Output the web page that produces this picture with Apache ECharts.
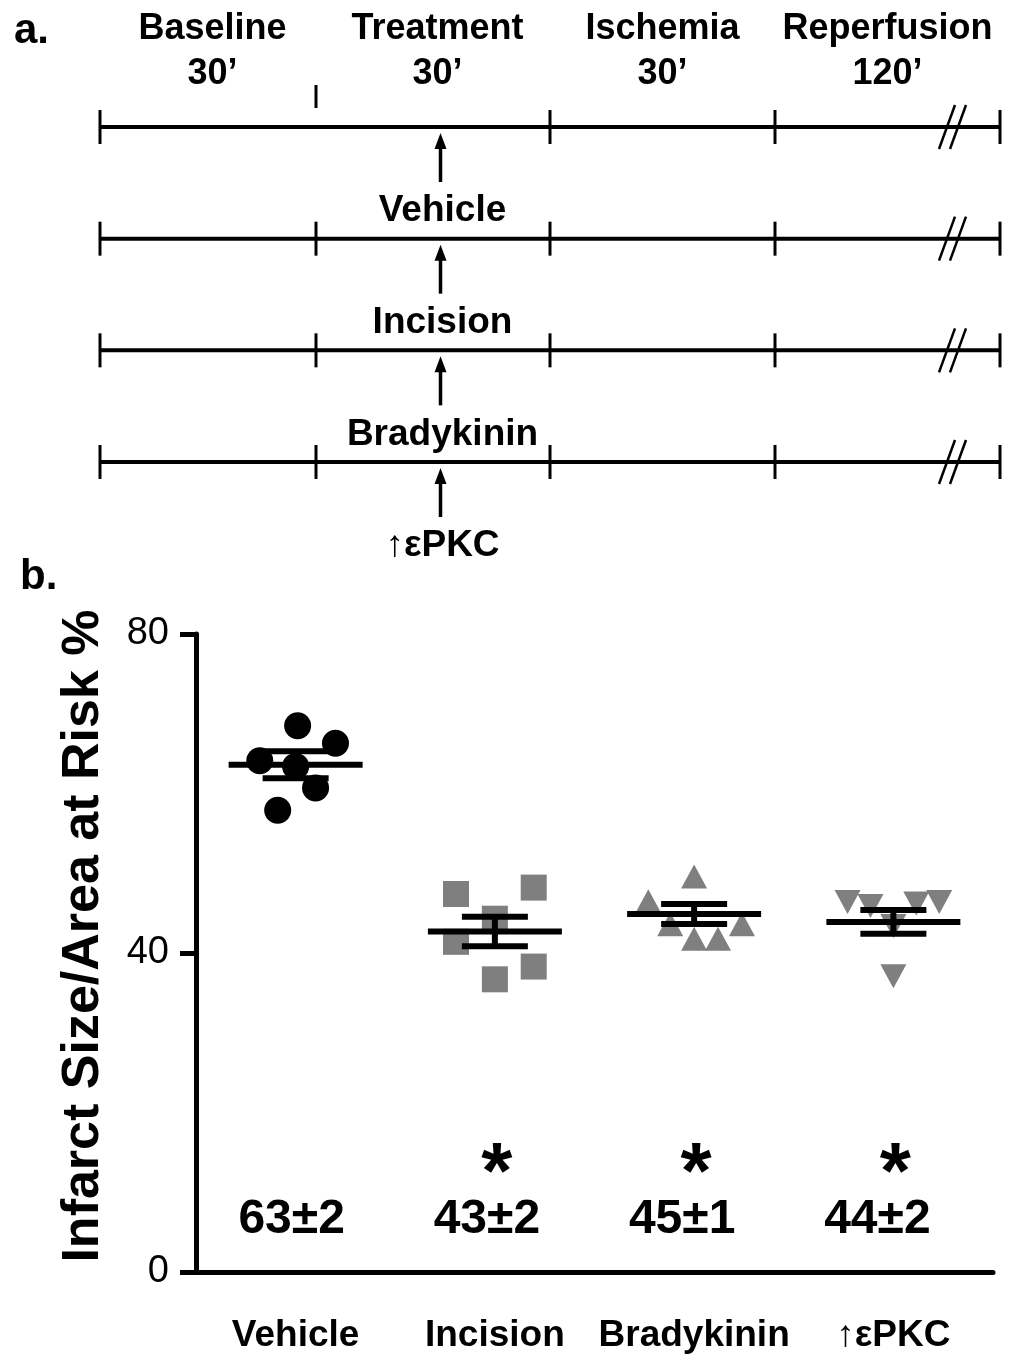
<!DOCTYPE html>
<html>
<head>
<meta charset="utf-8">
<script src="https://cdn.jsdelivr.net/npm/echarts@6/dist/echarts.min.js"></script>
<style>
  html, body { margin: 0; padding: 0; background: #fff; }
  #chart { width: 1015px; height: 1357px; }
</style>
</head>
<body>
<div id="chart"></div>
<script>
// ======================
// DATA
// ======================

const phases = ['Baseline', 'Treatment', 'Ischemia', 'Reperfusion'];
const durations = ['30\u2019', '30\u2019', '30\u2019', '120\u2019'];
const groups = ['Vehicle', 'Incision', 'Bradykinin', '\u2191\u03b5PKC'];

// infarct size / area at risk (%) per animal
const vehicleVals = [68.5, 66.3, 64.1, 63.4, 60.7, 57.9];
const incisionVals = [47.4, 48.2, 44.3, 41.4, 38.3, 36.7];
const bradykininVals = [49.6, 46.5, 43.6, 43.6, 41.8, 41.8];
const epkcVals = [46.4, 45.9, 46.2, 46.4, 43.4, 37.1];

// horizontal spread of the dots (category units)
const vehicleJitter = [0.01, 0.2, -0.18, 0, 0.1, -0.09];
const incisionJitter = [-0.195, 0.195, 0, -0.195, 0.195, 0];
const bradykininJitter = [0, -0.23, -0.12, 0.24, 0, 0.12];
const epkcJitter = [-0.23, -0.115, 0.115, 0.23, 0, 0];

const means = [63.6, 42.7, 44.9, 43.9];
const sems = [1.7, 1.85, 1.25, 1.5];
const summaryLabels = ['63\u00b12', '43\u00b12', '45\u00b11', '44\u00b12'];
const significance = ['', '*', '*', '*'];

const yTicks = [0, 40, 80];

// ======================
// HELPERS
// ======================

const FONT = "'Liberation Sans', Arial, sans-serif";
const GRAY = '#7f7f7f';

function seg(x1, y1, x2, y2, w) {
    return {
        type: 'line',
        shape: { x1, y1, x2, y2 },
        style: { stroke: '#000', lineWidth: w },
    };
}

function txt(text, x, y, size, weight) {
    return {
        type: 'text',
        style: {
            text, x, y,
            align: 'center',
            verticalAlign: 'middle',
            font: `${weight || 'bold'} ${size}px ${FONT}`,
            fill: '#000',
        },
    };
}

function dots(vals, jitter, idx) {
    return vals.map((v, k) => [idx + jitter[k], v]);
}

// ======================
// RENDERERS
// ======================

const treatIdx = phases.indexOf('Treatment');

function renderTimeline(params, api) {
    const row = api.value(1);
    const band = api.size([1, 0])[0];
    const c0 = api.coord([0, row]);
    const y = c0[1];
    const xStart = c0[0] - band / 2;
    const xEnd = xStart + band * phases.length;
    const children = [seg(xStart, y, xEnd, y, 4)];

    for (let j = 0; j <= phases.length; j++) {
        const x = xStart + j * band - (j === 1 ? 9 : 0);
        if (row === 0 && j === 1) children.push(seg(x, y - 42, x, y - 19, 3));
        else children.push(seg(x, y - 17, x, y + 17, 3));
    }

    // axis break
    const bx = xEnd - 0.2 * band;
    [-8, 3].forEach(dx => children.push(seg(bx + dx - 8, y + 22, bx + dx + 8, y - 22, 2.5)));

    // treatment arrow + label
    const ax = api.coord([treatIdx, row])[0] + 3;
    children.push(seg(ax, y + 20, ax, y + 55, 3.5));
    children.push({
        type: 'polygon',
        shape: { points: [[ax, y + 6], [ax - 6, y + 22], [ax + 6, y + 22]] },
        style: { fill: '#000' },
    });
    children.push(txt(groups[row], ax + 2, y + 84, 37));
    return { type: 'group', children };
}

function renderMeanSem(params, api) {
    const i = api.value(0);
    const m = api.coord([i, api.value(1)]);
    const hi = api.coord([i, api.value(1) + api.value(2)]);
    const lo = api.coord([i, api.value(1) - api.value(2)]);
    return {
        type: 'group',
        children: [
            seg(m[0] - 67, m[1], m[0] + 67, m[1], 6),
            seg(m[0], hi[1], m[0], lo[1], 6),
            seg(m[0] - 33, hi[1], m[0] + 33, hi[1], 6),
            seg(m[0] - 33, lo[1], m[0] + 33, lo[1], 6),
        ],
    };
}

function renderSummary(params, api) {
    const i = api.value(0);
    const p = api.coord([i, 6.6]);
    const s = api.coord([i, 13.5]);
    const children = [txt(summaryLabels[i], p[0] - 4 - 4 * i, p[1], 48)];
    if (significance[i]) children.push(txt(significance[i], s[0] + 2, s[1] + 12, 80));
    return { type: 'group', children };
}

// ======================
// CHART
// ======================

const chart = echarts.init(document.getElementById('chart'), null, { renderer: 'canvas' });

const option = {
    animation: false,
    backgroundColor: '#fff',
    graphic: [
        { type: 'text', left: 14, top: 10, style: { text: 'a.', font: `bold 42px ${FONT}`, fill: '#000' } },
        { type: 'text', left: 20, top: 556, style: { text: 'b.', font: `bold 42px ${FONT}`, fill: '#000' } },
    ],
    grid: [
        { left: 100, right: 15, top: 127, height: 335 },
        { left: 196, right: 22, top: 634, bottom: 85 },
    ],
    xAxis: [
        {
            gridIndex: 0,
            type: 'category',
            position: 'top',
            data: phases.map((p, i) => p + '\n' + durations[i]),
            axisLine: { show: false },
            axisTick: { show: false },
            axisLabel: {
                interval: 0,
                margin: 30,
                color: '#000',
                fontFamily: FONT,
                fontWeight: 'bold',
                fontSize: 36,
                lineHeight: 45,
            },
        },
        {
            gridIndex: 1,
            type: 'category',
            data: groups,
            axisLine: { onZero: false, lineStyle: { color: '#000', width: 5 } },
            axisTick: { alignWithLabel: true, interval: 0, length: 20, lineStyle: { color: '#000', width: 5 } },
            axisLabel: {
                interval: 0,
                margin: 45,
                color: '#000',
                fontFamily: FONT,
                fontWeight: 'bold',
                fontSize: 37,
            },
        },
        { gridIndex: 1, type: 'value', min: -0.5, max: 3.5, show: false },
    ],
    yAxis: [
        { gridIndex: 0, type: 'value', inverse: true, min: 0, max: 3, show: false },
        {
            gridIndex: 1,
            type: 'value',
            min: yTicks[0],
            max: yTicks[yTicks.length - 1],
            interval: yTicks[1] - yTicks[0],
            name: 'Infarct Size/Area at Risk %',
            nameLocation: 'middle',
            nameGap: 86,
            nameTextStyle: {
                color: '#000', fontFamily: FONT, fontWeight: 'bold', fontSize: 52,
                padding: [0, 0, 0, 34],
            },
            axisLine: { show: true, onZero: false, lineStyle: { color: '#000', width: 5 } },
            axisTick: { show: true, length: 16, lineStyle: { color: '#000', width: 5 } },
            axisLabel: { margin: 27, color: '#000', fontFamily: FONT, fontSize: 38 },
            splitLine: { show: false },
        },
    ],
    series: [
        {
            type: 'custom',
            xAxisIndex: 0,
            yAxisIndex: 0,
            data: groups.map((g, i) => [0, i]),
            renderItem: renderTimeline,
            silent: true,
        },
        {
            type: 'scatter', xAxisIndex: 2, yAxisIndex: 1,
            data: dots(vehicleVals, vehicleJitter, 0),
            symbol: 'circle', symbolSize: 27,
            itemStyle: { color: '#000', opacity: 1 },
        },
        {
            type: 'scatter', xAxisIndex: 2, yAxisIndex: 1,
            data: dots(incisionVals, incisionJitter, 1),
            symbol: 'rect', symbolSize: 26,
            itemStyle: { color: GRAY, opacity: 1 },
        },
        {
            type: 'scatter', xAxisIndex: 2, yAxisIndex: 1,
            data: dots(bradykininVals, bradykininJitter, 2),
            symbol: 'triangle', symbolSize: [26, 24],
            itemStyle: { color: GRAY, opacity: 1 },
        },
        {
            type: 'scatter', xAxisIndex: 2, yAxisIndex: 1,
            data: dots(epkcVals, epkcJitter, 3),
            symbol: 'triangle', symbolSize: [26, 24], symbolRotate: 180,
            itemStyle: { color: GRAY, opacity: 1 },
        },
        {
            type: 'custom', xAxisIndex: 1, yAxisIndex: 1, z: 5,
            data: means.map((m, i) => [i, m, sems[i]]),
            renderItem: renderMeanSem,
            silent: true,
        },
        {
            type: 'custom', xAxisIndex: 1, yAxisIndex: 1,
            data: summaryLabels.map((s, i) => [i]),
            renderItem: renderSummary,
            silent: true,
        },
    ],
};

chart.setOption(option);
</script>
</body>
</html>
